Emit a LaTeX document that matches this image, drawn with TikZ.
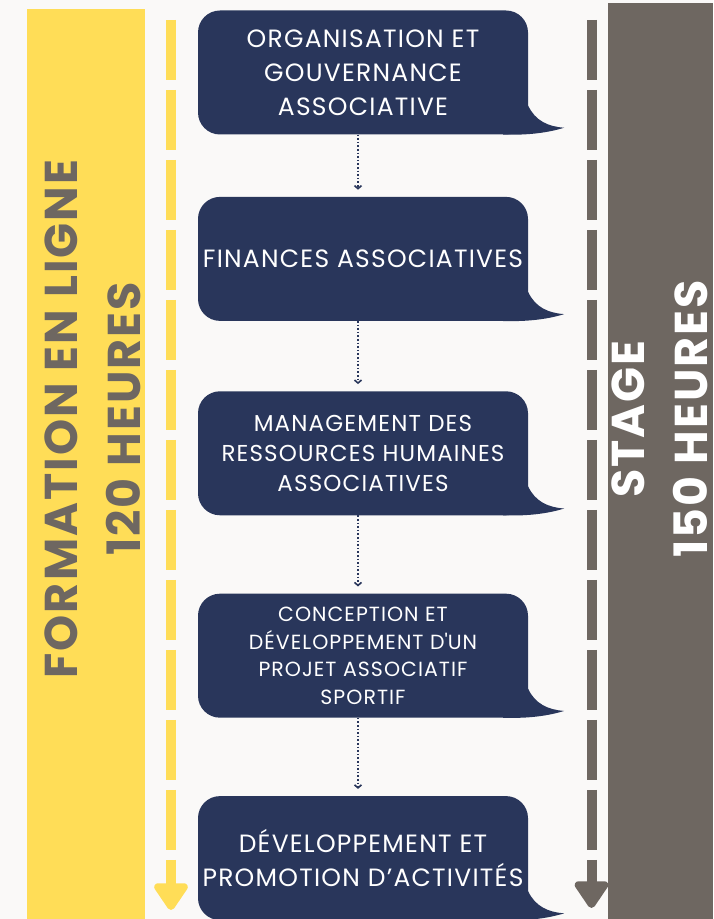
\documentclass[tikz,border=0pt]{standalone}
\usepackage{fontspec}
\setsansfont{Poppins}[LetterSpace=5]
\definecolor{baryellow}{RGB}{255,221,87}
\definecolor{bargrey}{RGB}{110,103,97}
\definecolor{modnavy}{RGB}{41,54,91}
\definecolor{paper}{RGB}{250,249,248}
\tikzset{every picture/.style={/utils/exec={\sffamily}}}
\usetikzlibrary{calc}
\usetikzlibrary{positioning}
\usetikzlibrary{arrows.meta}

\newcommand{\fsz}[2]{\fontsize{#1}{#2}\selectfont}

\tikzset{
  module/.style={fill=modnavy, text=white, rounded corners=22pt, minimum width=330pt, minimum height=124pt, align=center, inner sep=0pt},
  timeline/.style={line width=10pt, dash pattern=on 60pt off 10pt, -{Triangle[width=38pt,length=30pt,round]}},
  flow/.style={modnavy, line width=1.6pt, dotted, -{Straight Barb[length=3pt,width=7pt]}, shorten >=7pt},
  vlabel/.style={rotate=90, align=center, font=\bfseries\fsz{46}{63}\addfontfeatures{LetterSpace=4.5}},
}

\begin{document}
\begin{tikzpicture}[x=1pt, y=1pt]
  \fill [paper] (0,0) rectangle (713,919);
  \useasboundingbox (0,0) rectangle (713,919);

  % side bars
  \fill [baryellow] (27,0) rectangle (145,910);
  \fill [bargrey] (608,0) rectangle (713,916);

  \draw [timeline, baryellow] (171,899) -- (171,9);
  \draw [timeline, bargrey] (591.5,899) -- (591.5,11);

  % modules
  \node [module, font=\fsz{25}{34}] (b1) at (363,846.5) {ORGANISATION ET\\GOUVERNANCE\\ASSOCIATIVE};
  \node [module, font=\fsz{25}{34}, below=62pt of b1] (b2) {FINANCES ASSOCIATIVES};
  \node [module, font=\fsz{23}{30}, below=70pt of b2] (b3) {MANAGEMENT DES\\RESSOURCES HUMAINES\\ASSOCIATIVES};
  \node [module, font=\fsz{20.5}{27.5}, below=78pt of b3] (b4) {CONCEPTION ET\\DÉVELOPPEMENT D\textquotesingle UN\\PROJET ASSOCIATIF\\SPORTIF};
  \node [module, font=\fsz{25}{34}, below=78pt of b4] (b5) {DÉVELOPPEMENT ET\\PROMOTION D’ACTIVITÉS};

  \foreach \b in {b1,b2,b3,b4,b5}
    \fill [modnavy] ($(\b.south east)+(0,29)$) .. controls ($(\b.south east)+(7,14)$) and ($(\b.south east)+(20,8)$) .. ($(\b.south east)+(36,7)$)
      .. controls ($(\b.south east)+(20,2)$) and ($(\b.south east)+(2,0)$) .. ($(\b.south east)+(-16,0)$)
      -- ($(\b.south east)+(-25,0)$) -- ($(\b.south east)+(-25,29)$) -- cycle;

  \foreach \a/\b in {b1/b2,b2/b3,b3/b4,b4/b5}
    \draw [flow] ([xshift=-5pt]\a.south) -- ([xshift=-5pt]\b.north);

  \node [vlabel, text=bargrey] (online) at (92.5,500) {FORMATION EN LIGNE\\120 HEURES};
  \node [vlabel, text=white] (stage) at (660,500) {STAGE\\150 HEURES};
\end{tikzpicture}
\end{document}
